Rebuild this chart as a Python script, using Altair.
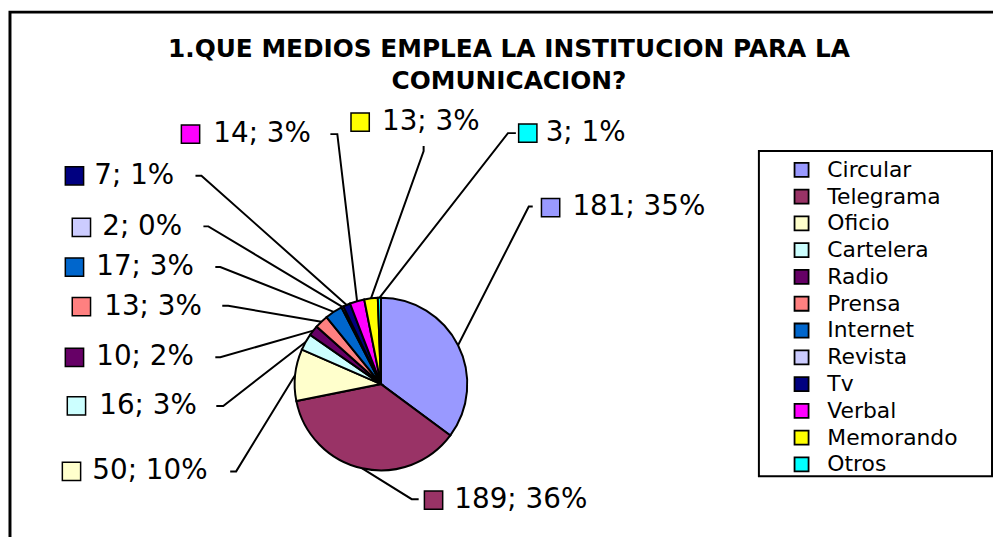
import math
import altair as alt
import pandas as pd

# ---------------- data ----------------
MEDIOS = ["Circular", "Telegrama", "Oficio", "Cartelera", "Radio", "Prensa",
          "Internet", "Revista", "Tv", "Verbal", "Memorando", "Otros"]
CANTIDAD = [181, 189, 50, 16, 10, 13, 17, 2, 7, 14, 13, 3]
PORCENTAJE = [35, 36, 10, 3, 2, 3, 3, 0, 1, 3, 3, 1]
COLORES = ["#9999FF", "#993366", "#FFFFCC", "#CCFFFF", "#660066", "#FF8080",
           "#0066CC", "#CCCCFF", "#000080", "#FF00FF", "#FFFF00", "#00FFFF"]
TITULO = ["1.QUE MEDIOS EMPLEA LA INSTITUCION PARA LA", "COMUNICACION?"]

# ---------------- layout (page pixels) ----------------
M = 8  # page margin
W, H = 993, 529
PIE_CX, PIE_CY, PIE_R = 384, 385, 87
ELBOW_X = [533, 415, 238, 225, 222, 230, 222, 210, 203, 340, 427, 512]
ELBOW_Y = [206, 501, 473, 407, 358, 306, 267, 226, 175, 133, 150, 132]
TICK_X = [537, 422, 232, 218, 217, 224, 217, 205, 197, 333, 427, 520]
TICK_Y = [206, 501, 473, 407, 358, 306, 267, 226, 175, 133, 145, 132]
SQ_X = [555, 437, 72, 77, 75, 82, 75, 82, 75, 192, 363, 532]
LAB_Y = [207, 502, 473, 407, 358, 307, 267, 227, 175, 133, 121, 132]
TXT_X = [577, 458, 93, 100, 97, 105, 97, 103, 95, 215, 385, 550]

FONT = "DejaVu Sans"

xs = alt.Scale(domain=[M, M + W], range=[0, W])
ys = alt.Scale(domain=[M, M + H], range=[0, H])

df = pd.DataFrame({"Medio": MEDIOS, "Cantidad": CANTIDAD, "idx": list(range(len(MEDIOS)))})

# leader lines: edge of slice at mid angle -> elbow -> tick end
total = sum(CANTIDAD)
rows = []
cum = 0
for i, (m, v) in enumerate(zip(MEDIOS, CANTIDAD)):
    a = (cum + v / 2) / total * 2 * math.pi
    cum += v
    ex = PIE_CX + PIE_R * math.sin(a)
    ey = PIE_CY - PIE_R * math.cos(a)
    rows.append({"Medio": m, "pt": 0, "px": ex, "py": ey})
    rows.append({"Medio": m, "pt": 1, "px": ELBOW_X[i], "py": ELBOW_Y[i]})
    rows.append({"Medio": m, "pt": 2, "px": TICK_X[i], "py": TICK_Y[i]})
lines_df = pd.DataFrame(rows)

lab_df = pd.DataFrame({
    "Medio": MEDIOS,
    "label": [f"{c}; {p}%" for c, p in zip(CANTIDAD, PORCENTAJE)],
    "sx": SQ_X, "tx": TXT_X, "ly": LAB_Y,
})

color_scale = alt.Scale(domain=MEDIOS, range=COLORES)

one = pd.DataFrame({"k": [0]})

frame = alt.Chart(one).mark_rect(fill="white", stroke="black", strokeWidth=3).encode(
    x=alt.value(10 - M), x2=alt.value(1200), y=alt.value(10 - M), y2=alt.value(1200)
)

legend_box = alt.Chart(one).mark_rect(fill="white", stroke="black", strokeWidth=2).encode(
    x=alt.value(765 - M), x2=alt.value(1000 - M), y=alt.value(150 - M), y2=alt.value(478 - M)
)

title = alt.Chart(one).mark_text(
    font=FONT, fontSize=25, fontWeight="bold", align="center", baseline="alphabetic",
    lineBreak="\n", lineHeight=33, color="black"
).encode(
    x=alt.value(513 - M), y=alt.value(55 - M), text=alt.value("\n".join(TITULO))
)

pie = alt.Chart(df).mark_arc(stroke="black", strokeWidth=2, radius=PIE_R).encode(
    theta=alt.Theta("Cantidad:Q", stack=True),
    order=alt.Order("idx:Q"),
    color=alt.Color("Medio:N", scale=color_scale, sort=MEDIOS, legend=alt.Legend(
        title=None, orient="none", legendX=765 - M, legendY=150 - M,
        padding=8, symbolOffset=24, labelOffset=15, symbolType="square",
        symbolSize=200, symbolStrokeColor="black", symbolStrokeWidth=1.8,
        labelFont=FONT, labelFontSize=22, labelColor="black", rowPadding=5,
        labelLimit=300,
    )),
    x=alt.value(PIE_CX - M), y=alt.value(PIE_CY - M),
)

leaders = alt.Chart(lines_df).mark_line(color="black", strokeWidth=2).encode(
    x=alt.X("px:Q", scale=xs, axis=None),
    y=alt.Y("py:Q", scale=ys, axis=None),
    detail="Medio:N",
    order="pt:Q",
)

squares = alt.Chart(lab_df).mark_square(size=340, stroke="black", strokeWidth=1.5, opacity=1).encode(
    x=alt.X("sx:Q", scale=xs, axis=None),
    y=alt.Y("ly:Q", scale=ys, axis=None),
    color=alt.Color("Medio:N", scale=color_scale, legend=None),
)

texts = alt.Chart(lab_df).mark_text(
    font=FONT, fontSize=28, align="left", baseline="middle", color="black"
).encode(
    x=alt.X("tx:Q", scale=xs, axis=None),
    y=alt.Y("ly:Q", scale=ys, axis=None),
    text="label:N",
)

chart = alt.layer(frame, legend_box, title, leaders, pie, squares, texts).properties(
    width=W, height=H, padding=0, autosize=alt.AutoSizeParams(type="none"),
    background="white",
).configure_view(stroke="transparent")

chart.save("out.html", embed_options={"renderer": "svg", "actions": False})
